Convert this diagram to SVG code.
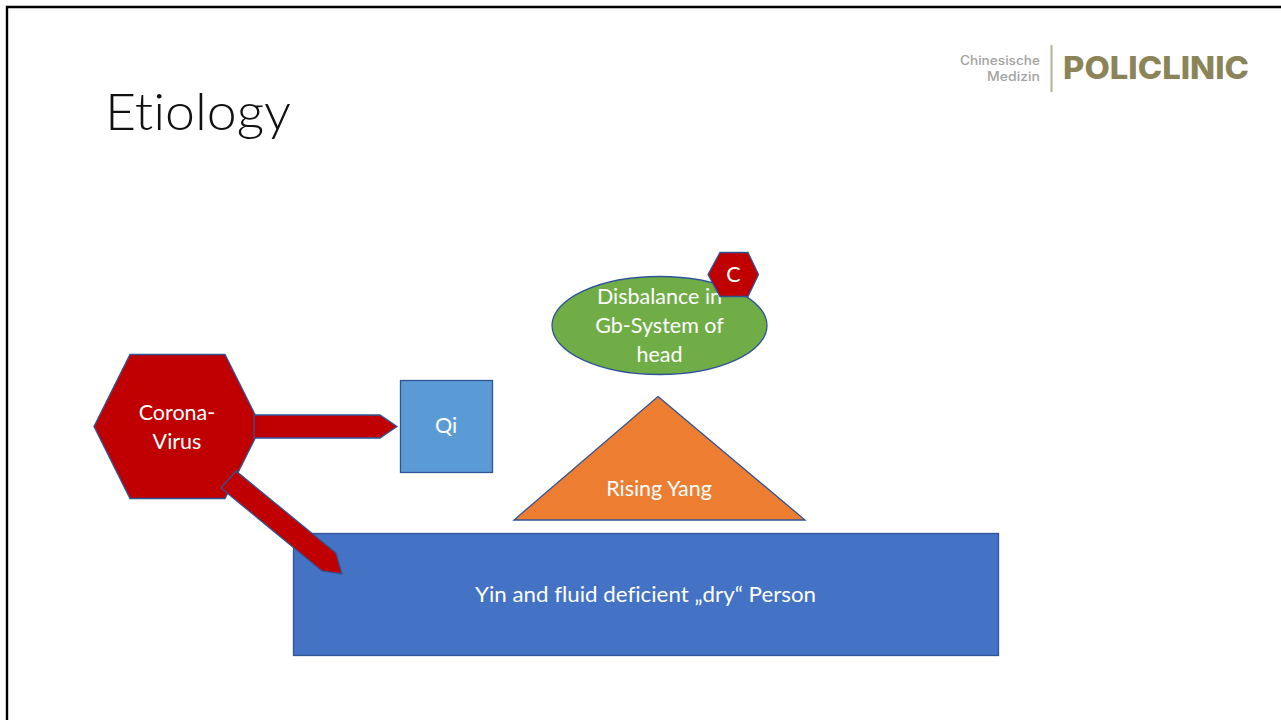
<svg xmlns="http://www.w3.org/2000/svg" width="1281" height="720" viewBox="0 0 1281 720">
<style>
text{font-variant-ligatures:none}
.s{stroke:#2f5597;stroke-width:1.3}
.r{fill:#c00000}
.t{font-family:Lato,"Open Sans","Liberation Sans",sans-serif;font-size:21.500px;fill:#fff;text-anchor:middle}
.g{font-family:Inter,"Liberation Sans",sans-serif;font-size:12.500px;font-weight:500;fill:#a3a3a0;text-anchor:end}
</style>
<rect width="1281" height="720" fill="#fff"/>
<path d="M7 720V7H1281" fill="none" stroke="#000" stroke-width="2.400"/>
<text id="title" x="105" y="130" font-family="Lato,'Open Sans',sans-serif" font-weight="300" font-size="52" fill="#111" textLength="186" lengthAdjust="spacingAndGlyphs">Etiology</text>
<g id="logo">
<text class="g" x="1040" y="65" textLength="80" lengthAdjust="spacingAndGlyphs">Chinesische</text>
<text class="g" x="1040" y="81" textLength="53" lengthAdjust="spacingAndGlyphs">Medizin</text>
<rect x="1050.500" y="45" width="2" height="47" fill="#b5b09a"/>
<text x="1063" y="79" font-family="Inter,'Liberation Sans',sans-serif" font-weight="800" font-size="31" fill="#8b8459" textLength="186" lengthAdjust="spacingAndGlyphs">POLICLINIC</text>
</g>
<g id="person"><rect class="s" x="293.500" y="533.500" width="705" height="122" fill="#4472c4"/><text class="t" x="645.500" y="602" textLength="341" lengthAdjust="spacingAndGlyphs">Yin and fluid deficient „dry“ Person</text></g>
<g id="virus"><path class="s r" d="M130 354.500H225L261 426.500L225 498.500H130L94 426.500Z"/><text class="t" x="177" y="420">Corona-</text><text class="t" x="177" y="449">Virus</text></g>
<g id="connectors">
<path class="s r" d="M254 415H380L397 426.500L380 438H254Z"/>
<path class="s r" d="M236 471L336 553L342 574L322 571L221 488Z"/>
</g>
<g id="qi"><rect class="s" x="400.500" y="380.500" width="92" height="92" fill="#5b9bd5"/><text class="t" x="446" y="433">Qi</text></g>
<g id="yang"><path class="s" d="M658 396.500L805 520H514Z" fill="#ed7d31"/><text class="t" x="659" y="496">Rising Yang</text></g>
<g id="gb"><ellipse class="s" cx="659.500" cy="325.500" rx="107.500" ry="49" fill="#70ad47"/><text class="t" x="659.500" y="304">Disbalance in</text><text class="t" x="659.500" y="333">Gb-System of</text><text class="t" x="659.500" y="362">head</text></g>
<g id="c"><path class="s r" d="M720 252.500H748L758.500 274.500L748 296.500H720L708 274.500Z"/><text class="t" x="733.500" y="282">C</text></g>
</svg>
